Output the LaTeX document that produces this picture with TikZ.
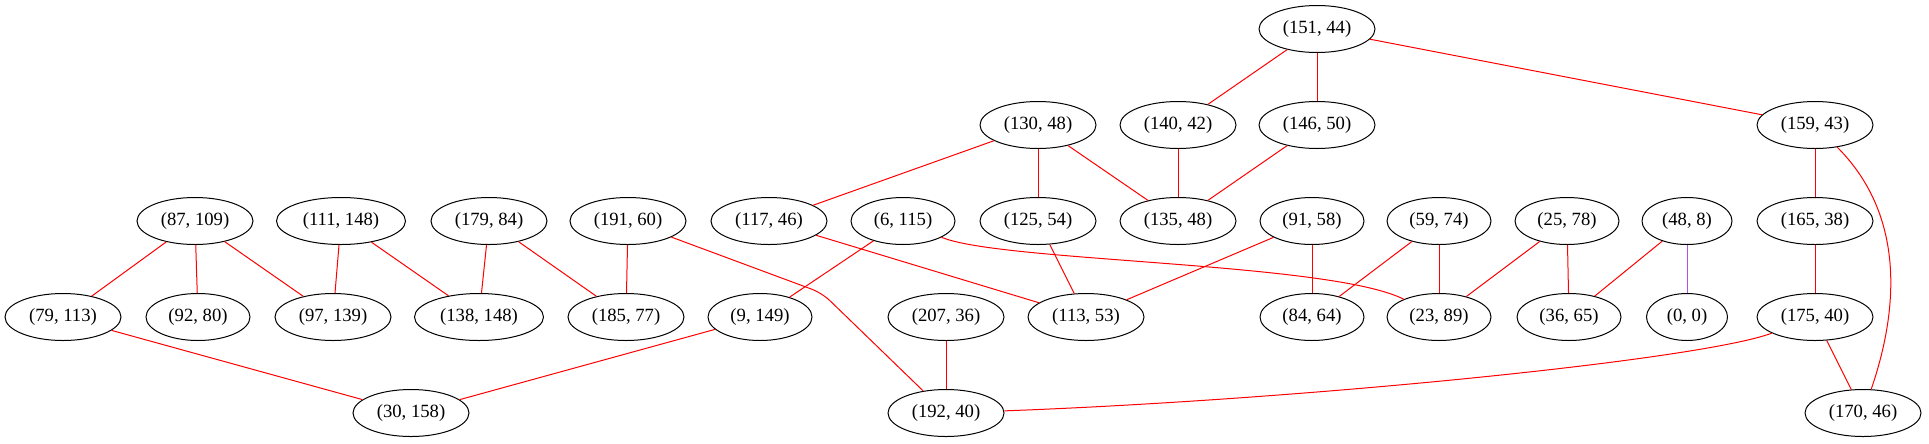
\documentclass[tikz,border=0pt]{standalone}
\usepackage{fontspec}
\setmainfont{Liberation Serif}
\usetikzlibrary{shapes.geometric}
\definecolor{edgered}{RGB}{255,0,0}
\definecolor{edgepurple}{RGB}{176,80,232}
\begin{document}
\begin{tikzpicture}[x=0.75pt,y=-0.75pt,
  nd/.style={ellipse,draw=black,line width=0.75pt,inner sep=0pt,minimum height=35.25pt,font=\fontsize{14pt}{16pt}\selectfont},
  wfive/.style={nd,minimum width=87pt},
  wsix/.style={nd,minimum width=96.75pt},
  wfour/.style={nd,minimum width=78pt},
  wthree/.style={nd,minimum width=67.5pt},
  wtwo/.style={nd,minimum width=60.75pt},
  ed/.style={draw=edgered,line width=0.75pt},
  edp/.style={draw=edgepurple,line width=0.75pt}]
\useasboundingbox (0,0) rectangle (1929,443);
% row 1
\node[wfive] (a151x44) at (1317,29) {(151, 44)};
% row 2
\node[wfive] (a130x48) at (1038,125) {(130, 48)};
\node[wfive] (a140x42) at (1178,125) {(140, 42)};
\node[wfive] (a146x50) at (1317,125) {(146, 50)};
\node[wfive] (a159x43) at (1815,125) {(159, 43)};
% row 3
\node[wfive] (a87x109) at (195,221) {(87, 109)};
\node[wsix] (a111x148) at (341,221) {(111, 148)};
\node[wfive] (a179x84) at (489,221) {(179, 84)};
\node[wfive] (a191x60) at (628,221) {(191, 60)};
\node[wfive] (a117x46) at (769,221) {(117, 46)};
\node[wfour] (a6x115) at (903,221) {(6, 115)};
\node[wfive] (a125x54) at (1038,221) {(125, 54)};
\node[wfive] (a135x48) at (1178,221) {(135, 48)};
\node[wfour] (a91x58) at (1312,221) {(91, 58)};
\node[wfour] (a59x74) at (1439,221) {(59, 74)};
\node[wfour] (a25x78) at (1567,221) {(25, 78)};
\node[wthree] (a48x8) at (1687,221) {(48, 8)};
\node[wfive] (a165x38) at (1815,221) {(165, 38)};
% row 4
\node[wfive] (a79x113) at (63,317) {(79, 113)};
\node[wfour] (a92x80) at (198,317) {(92, 80)};
\node[wfive] (a97x139) at (333,317) {(97, 139)};
\node[wsix] (a138x148) at (479,317) {(138, 148)};
\node[wfive] (a185x77) at (626,317) {(185, 77)};
\node[wfour] (a9x149) at (760,317) {(9, 149)};
\node[wfive] (a207x36) at (946,317) {(207, 36)};
\node[wfive] (a113x53) at (1086,317) {(113, 53)};
\node[wfour] (a84x64) at (1312,317) {(84, 64)};
\node[wfour] (a23x89) at (1439,317) {(23, 89)};
\node[wfour] (a36x65) at (1569,317) {(36, 65)};
\node[wtwo] (a0x0) at (1687,317) {(0, 0)};
\node[wfive] (a175x40) at (1815,317) {(175, 40)};
% row 5
\node[wfive] (a30x158) at (411,413) {(30, 158)};
\node[wfive] (a192x40) at (946,413) {(192, 40)};
\node[wfive] (a170x46) at (1863,413) {(170, 46)};
% helper coordinate
\coordinate (k1) at (822,293);
% edges
\draw[ed] (a151x44) -- (a140x42);
\draw[ed] (a151x44) -- (a146x50);
\draw[ed] (a151x44) -- (a159x43);
\draw[ed] (a130x48) -- (a117x46);
\draw[ed] (a130x48) -- (a125x54);
\draw[ed] (a130x48) -- (a135x48);
\draw[ed] (a140x42) -- (a135x48);
\draw[ed] (a146x50) -- (a135x48);
\draw[ed] (a159x43) -- (a165x38);
\draw[ed] (a159x43) .. controls (1910,220) and (1895,320) .. (a170x46);
\draw[ed] (a165x38) -- (a175x40);
\draw[ed] (a175x40) -- (a170x46);
\draw[ed] (a175x40) .. controls (1700,360) and (1300,400) .. (a192x40);
\draw[ed] (a87x109) -- (a79x113);
\draw[ed] (a87x109) -- (a92x80);
\draw[ed] (a87x109) -- (a97x139);
\draw[ed] (a111x148) -- (a97x139);
\draw[ed] (a111x148) -- (a138x148);
\draw[ed] (a179x84) -- (a138x148);
\draw[ed] (a179x84) -- (a185x77);
\draw[ed] (a191x60) -- (a185x77);
\draw[ed,rounded corners=8] (a191x60) -- (k1) -- (a192x40);
\draw[ed] (a117x46) -- (a113x53);
\draw[ed] (a6x115) -- (a9x149);
\draw[ed] (a6x115) .. controls (1000,262) and (1330,262) .. (a23x89);
\draw[ed] (a125x54) -- (a113x53);
\draw[ed] (a91x58) -- (a113x53);
\draw[ed] (a91x58) -- (a84x64);
\draw[ed] (a59x74) -- (a84x64);
\draw[ed] (a59x74) -- (a23x89);
\draw[ed] (a25x78) -- (a23x89);
\draw[ed] (a25x78) -- (a36x65);
\draw[ed] (a48x8) -- (a36x65);
\draw[edp] (a48x8) -- (a0x0);
\draw[ed] (a79x113) -- (a30x158);
\draw[ed] (a9x149) -- (a30x158);
\draw[ed] (a207x36) -- (a192x40);
\end{tikzpicture}
\end{document}
